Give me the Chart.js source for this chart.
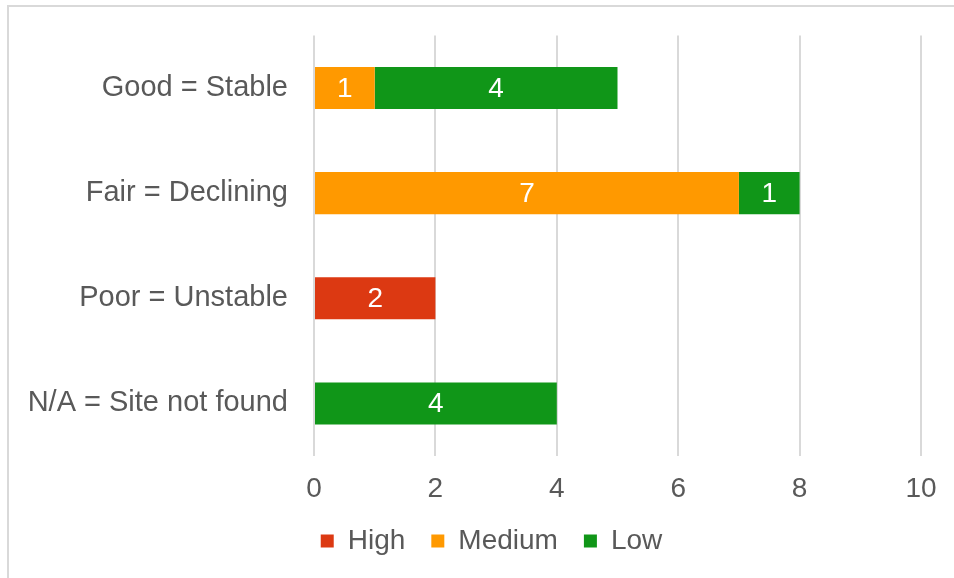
<!DOCTYPE html>
<html>
<head>
<meta charset="utf-8">
<script src="https://cdn.jsdelivr.net/npm/chart.js@4/dist/chart.umd.min.js"></script>
<style>
html,body{margin:0;padding:0;background:#fff;}
#wrap{position:relative;width:954px;height:578px;overflow:hidden;}
#frame{position:absolute;left:7px;top:5px;width:1000px;height:700px;border-top:2px solid #d9d9d9;border-left:2px solid #d9d9d9;box-sizing:border-box;}
canvas{position:absolute;left:0;top:0;}
</style>
</head>
<body>
<div id="wrap">
<div id="frame"></div>
<canvas id="c" width="954" height="578"></canvas>
</div>
<script>
const categories = ["Good = Stable", "Fair = Declining", "Poor = Unstable", "N/A = Site not found"];
const highValues = [0, 0, 2, 0];
const mediumValues = [1, 7, 0, 0];
const lowValues = [4, 1, 0, 4];
const xTicks = [0, 2, 4, 6, 8, 10];

const FONT = "'Liberation Sans', Arial, sans-serif";
const TEXT = '#595959';
const FS = 28;

const valueLabels = {
  id: 'valueLabels',
  afterDatasetsDraw(chart) {
    const ctx = chart.ctx;
    ctx.save();
    ctx.fillStyle = '#ffffff';
    ctx.font = FS + 'px ' + FONT;
    ctx.textAlign = 'center';
    ctx.textBaseline = 'middle';
    chart.data.datasets.forEach((ds, i) => {
      const meta = chart.getDatasetMeta(i);
      meta.data.forEach((el, j) => {
        const v = ds.data[j];
        if (!v) return;
        const p = el.getCenterPoint();
        ctx.fillText(String(v), p.x, p.y + 1);
      });
    });
    ctx.restore();
  }
};

const shiftLegend = {
  id: 'shiftLegend',
  afterLayout(chart) {
    const lg = chart.legend;
    if (lg) { lg.left += 31; lg.right += 31; lg.top -= 13; lg.bottom -= 13; }
  }
};

new Chart(document.getElementById('c'), {
  type: 'bar',
  data: {
    labels: categories,
    datasets: [
      { label: 'High', data: highValues, backgroundColor: '#dc3912' },
      { label: 'Medium', data: mediumValues, backgroundColor: '#ff9900' },
      { label: 'Low', data: lowValues, backgroundColor: '#109618' }
    ]
  },
  options: {
    indexAxis: 'y',
    responsive: false,
    animation: false,
    devicePixelRatio: 1,
    categoryPercentage: 0.8,
    barPercentage: 0.5,
    layout: { padding: { left: 0, top: 34, right: 33, bottom: 0 } },
    scales: {
      x: {
        stacked: true,
        min: 0, max: 10,
        afterBuildTicks(scale) { scale.ticks = xTicks.map(v => ({ value: v })); },
        afterFit(scale) { scale.height = 58; },
        grid: { color: '#d9d9d9', lineWidth: 2, drawTicks: false },
        border: { display: false },
        ticks: { color: TEXT, font: { family: FONT, size: FS }, padding: 16 }
      },
      y: {
        stacked: true,
        afterFit(scale) { scale.width = 314; },
        grid: { display: false },
        border: { display: false },
        ticks: { color: TEXT, font: { family: FONT, size: 29 }, padding: 18 }
      }
    },
    plugins: {
      legend: {
        position: 'bottom',
        labels: {
          color: TEXT,
          font: { family: FONT, size: FS },
          boxWidth: 13, boxHeight: 13,
          padding: 26
        }
      },
      tooltip: { enabled: false }
    }
  },
  plugins: [valueLabels, shiftLegend]
});
</script>
</body>
</html>
